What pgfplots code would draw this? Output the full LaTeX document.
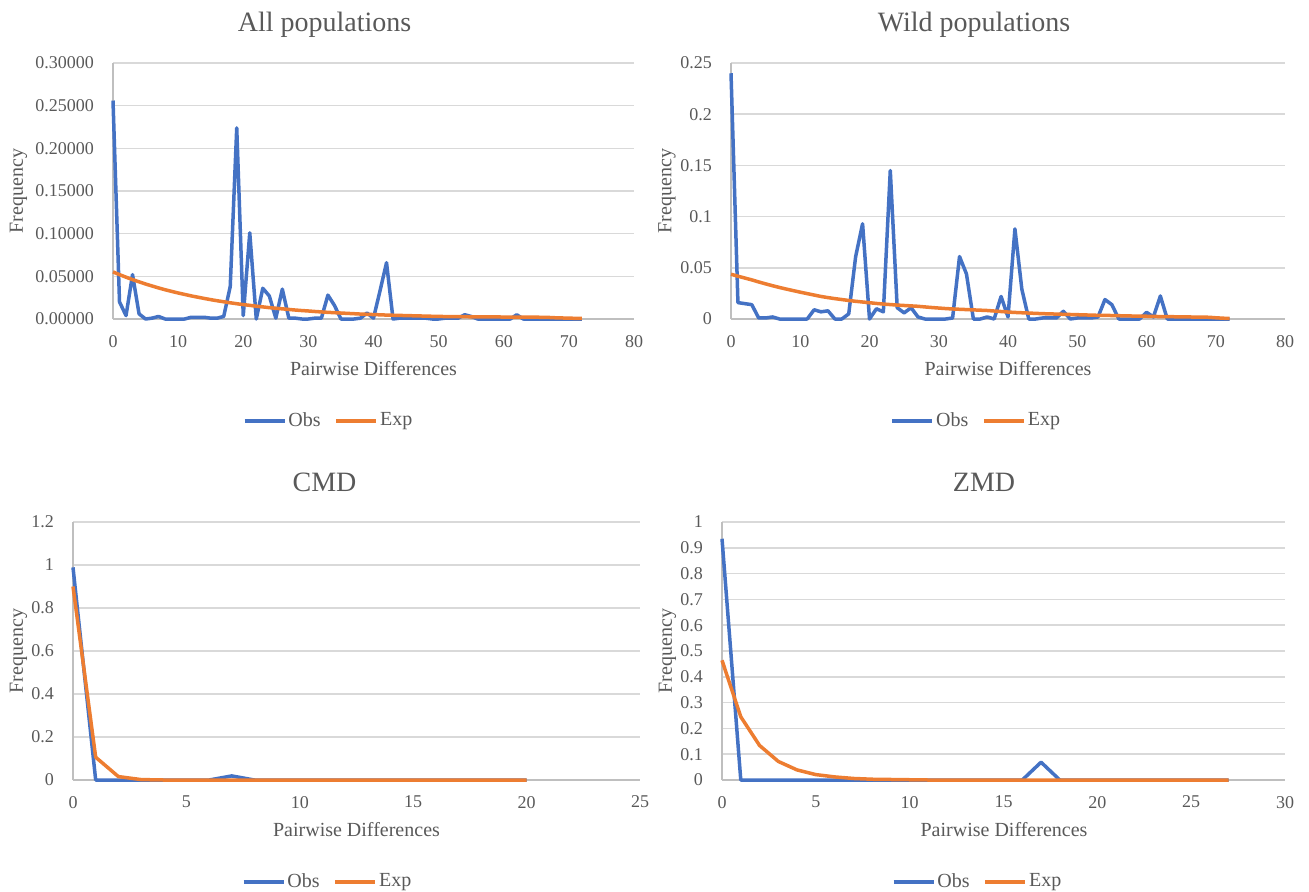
\documentclass[border=0pt]{standalone}
\usepackage{fontspec}
\setmainfont{Liberation Serif}
\usepackage{pgfplots}
\pgfplotsset{compat=1.18}
\definecolor{obsblue}{HTML}{4472C4}
\definecolor{exporange}{HTML}{ED7D31}
\definecolor{gridgray}{HTML}{D9D9D9}
\definecolor{axisgray}{HTML}{BFBFBF}
\definecolor{txtgray}{HTML}{595959}

\pgfplotsset{
  panel/.style={
    scale only axis, anchor=south west,
    enlargelimits=false, clip=false,
    axis lines=left,
    axis line style={draw=axisgray, line width=0.75pt, -},
    ymajorgrids,
    grid style={draw=gridgray, line width=0.75pt},
    major tick length=0pt,
    tick label style={font=\fontsize{9}{10}\selectfont, text=txtgray},
    yticklabel style={xshift=-6pt},
    xticklabel style={yshift=-4.5pt},
    /pgf/number format/assume math mode=true,
    scaled y ticks=false,
    legend style={draw=none, fill=none, legend columns=-1,
      font=\fontsize{10}{11}\selectfont, text=txtgray, anchor=center,
      nodes={inner sep=1pt},
      /tikz/every even column/.append style={column sep=6pt}},
    legend image code/.code={\draw[##1] (0pt,0pt) -- (20pt,0pt);},
  },
  obs/.style={color=obsblue, line width=1.75pt, line join=round, mark=none},
  exp/.style={color=exporange, line width=1.75pt, line join=round, mark=none},
}

\begin{document}
\begin{tikzpicture}
\useasboundingbox (0,0) rectangle (654.5pt,445.5pt);

% ---- All populations ----
\begin{axis}[panel, at={(56.5pt,286pt)}, width=260.5pt, height=128pt,
  xmin=0, xmax=80, ymin=0, ymax=0.3,
  xtick={0,10,20,30,40,50,60,70,80},
  ytick={0,0.05,0.1,0.15,0.2,0.25,0.3},
  yticklabel style={/pgf/number format/.cd, fixed, fixed zerofill, precision=5},
  legend style={at={(0.414,-0.398)}}]
\addplot[obs] coordinates {
 (0,0.256) (1,0.020) (2,0.004) (3,0.052) (4,0.006) (5,0.000) (6,0.001) (7,0.003)
 (8,0.000) (9,0.000) (10,0.000) (11,0.000) (12,0.002) (13,0.002) (14,0.002) (15,0.001)
 (16,0.001) (17,0.003) (18,0.038) (19,0.224) (20,0.004) (21,0.101) (22,0.000) (23,0.036)
 (24,0.027) (25,0.001) (26,0.035) (27,0.001) (28,0.001) (29,0.000) (30,0.000) (31,0.001)
 (32,0.001) (33,0.028) (34,0.016) (35,0.000) (36,0.000) (37,0.000) (38,0.001) (39,0.007)
 (40,0.001) (41,0.033) (42,0.066) (43,0.000) (44,0.001) (45,0.001) (46,0.001) (47,0.001)
 (48,0.001) (49,0.000) (50,0.000) (51,0.001) (52,0.001) (53,0.001) (54,0.005) (55,0.003)
 (56,0.000) (57,0.000) (58,0.000) (59,0.000) (60,0.000) (61,0.000) (62,0.005) (63,0.000)
 (64,0.000) (65,0.000) (66,0.000) (67,0.000) (68,0.000) (69,0.000) (70,0.000) (71,0.000)
 (72,0.000)
};
\addlegendentry{Obs}
\addplot[exp] coordinates {
 (0,0.0552) (1,0.0520) (2,0.0490) (3,0.0462) (4,0.0436) (5,0.0410) (6,0.0387) (7,0.0364)
 (8,0.0343) (9,0.0324) (10,0.0305) (11,0.0288) (12,0.0271) (13,0.0256) (14,0.0241) (15,0.0227)
 (16,0.0214) (17,0.0202) (18,0.0190) (19,0.0179) (20,0.0169) (21,0.0160) (22,0.0150) (23,0.0142)
 (24,0.0133) (25,0.0126) (26,0.0119) (27,0.0112) (28,0.0105) (29,0.0099) (30,0.0094) (31,0.0088)
 (32,0.0083) (33,0.0078) (34,0.0074) (35,0.0070) (36,0.0066) (37,0.0062) (38,0.0058) (39,0.0055)
 (40,0.0052) (41,0.0049) (42,0.0046) (43,0.0044) (44,0.0042) (45,0.0040) (46,0.0038) (47,0.0036)
 (48,0.0034) (49,0.0032) (50,0.0030) (51,0.0029) (52,0.0028) (53,0.0028) (54,0.0027) (55,0.0026)
 (56,0.0026) (57,0.0025) (58,0.0024) (59,0.0024) (60,0.0023) (61,0.0023) (62,0.0022) (63,0.0022)
 (64,0.0021) (65,0.0021) (66,0.0020) (67,0.0018) (68,0.0014) (69,0.0012) (70,0.0010) (71,0.0008)
 (72,0.0006)
};
\addlegendentry{Exp}
\end{axis}

% ---- Wild populations ----
\begin{axis}[panel, at={(365.5pt,286pt)}, width=277pt, height=128pt,
  xmin=0, xmax=80, ymin=0, ymax=0.25,
  xtick={0,10,20,30,40,50,60,70,80},
  ytick={0,0.05,0.1,0.15,0.2,0.25},
  yticklabel style={/pgf/number format/.cd, fixed, precision=2},
  legend style={at={(0.443,-0.398)}}]
\addplot[obs] coordinates {
 (0,0.240) (1,0.016) (2,0.015) (3,0.014) (4,0.001) (5,0.001) (6,0.002) (7,0.000)
 (8,0.000) (9,0.000) (10,0.000) (11,0.000) (12,0.009) (13,0.007) (14,0.008) (15,0.000)
 (16,0.000) (17,0.005) (18,0.061) (19,0.093) (20,0.000) (21,0.010) (22,0.007) (23,0.145)
 (24,0.011) (25,0.006) (26,0.011) (27,0.002) (28,0.000) (29,0.000) (30,0.000) (31,0.000)
 (32,0.001) (33,0.061) (34,0.044) (35,0.000) (36,0.000) (37,0.002) (38,0.000) (39,0.022)
 (40,0.002) (41,0.088) (42,0.029) (43,0.000) (44,0.000) (45,0.001) (46,0.001) (47,0.001)
 (48,0.0075) (49,0.000) (50,0.001) (51,0.001) (52,0.001) (53,0.002) (54,0.019) (55,0.014)
 (56,0.000) (57,0.000) (58,0.000) (59,0.000) (60,0.0065) (61,0.002) (62,0.0225) (63,0.000)
 (64,0.000) (65,0.000) (66,0.000) (67,0.000) (68,0.000) (69,0.000) (70,0.000) (71,0.000)
 (72,0.000)
};
\addlegendentry{Obs}
\addplot[exp] coordinates {
 (0,0.0437) (1,0.0418) (2,0.0400) (3,0.0382) (4,0.0362) (5,0.0343) (6,0.0325) (7,0.0308)
 (8,0.0292) (9,0.0277) (10,0.0262) (11,0.0248) (12,0.0234) (13,0.0220) (14,0.0209) (15,0.0199)
 (16,0.0190) (17,0.0181) (18,0.0173) (19,0.0166) (20,0.0159) (21,0.0152) (22,0.0146) (23,0.0141)
 (24,0.0136) (25,0.0132) (26,0.0128) (27,0.0124) (28,0.0118) (29,0.0112) (30,0.0107) (31,0.0102)
 (32,0.0098) (33,0.0095) (34,0.0092) (35,0.0089) (36,0.0086) (37,0.0083) (38,0.0078) (39,0.0073)
 (40,0.0068) (41,0.0064) (42,0.0061) (43,0.0058) (44,0.0055) (45,0.0052) (46,0.0050) (47,0.0048)
 (48,0.0046) (49,0.0044) (50,0.0042) (51,0.0040) (52,0.0038) (53,0.0036) (54,0.0035) (55,0.0034)
 (56,0.0032) (57,0.0031) (58,0.0029) (59,0.0028) (60,0.0027) (61,0.0025) (62,0.0024) (63,0.0023)
 (64,0.0022) (65,0.0021) (66,0.0020) (67,0.0019) (68,0.0018) (69,0.0017) (70,0.0012) (71,0.0008)
 (72,0.0005)
};
\addlegendentry{Exp}
\end{axis}

% ---- CMD ----
\begin{axis}[panel, at={(36.5pt,55.5pt)}, width=283.5pt, height=129pt,
  xmin=0, xmax=25, ymin=0, ymax=1.2,
  xtick={0,5,10,15,20,25},
  ytick={0,0.2,0.4,0.6,0.8,1,1.2},
  yticklabel style={/pgf/number format/.cd, fixed, precision=1},
  legend style={at={(0.449,-0.395)}}]
\addplot[obs] coordinates {
 (0,0.989) (1,0) (2,0) (3,0) (4,0) (5,0) (6,0) (7,0.019) (8,0) (9,0) (10,0)
 (11,0) (12,0) (13,0) (14,0) (15,0) (16,0) (17,0) (18,0) (19,0) (20,0)
};
\addlegendentry{Obs}
\addplot[exp] coordinates {
 (0,0.900) (1,0.106) (2,0.016) (3,0.002) (4,0) (5,0) (6,0) (7,0) (8,0) (9,0) (10,0)
 (11,0) (12,0) (13,0) (14,0) (15,0) (16,0) (17,0) (18,0) (19,0) (20,0)
};
\addlegendentry{Exp}
\end{axis}

% ---- ZMD ----
\begin{axis}[panel, at={(361pt,55.5pt)}, width=281.5pt, height=129pt,
  xmin=0, xmax=30, ymin=0, ymax=1,
  xtick={0,5,10,15,20,25,30},
  ytick={0,0.1,0.2,0.3,0.4,0.5,0.6,0.7,0.8,0.9,1},
  yticklabel style={/pgf/number format/.cd, fixed, precision=1},
  legend style={at={(0.454,-0.395)}}]
\addplot[obs] coordinates {
 (0,0.935) (1,0) (2,0) (3,0) (4,0) (5,0) (6,0) (7,0) (8,0) (9,0) (10,0)
 (11,0) (12,0) (13,0) (14,0) (15,0) (16,0) (17,0.069) (18,0) (19,0) (20,0)
 (21,0) (22,0) (23,0) (24,0) (25,0) (26,0) (27,0)
};
\addlegendentry{Obs}
\addplot[exp] coordinates {
 (0,0.464) (1,0.245) (2,0.134) (3,0.072) (4,0.039) (5,0.021) (6,0.012) (7,0.006)
 (8,0.003) (9,0.002) (10,0.001) (11,0) (12,0) (13,0) (14,0) (15,0) (16,0) (17,0)
 (18,0) (19,0) (20,0) (21,0) (22,0) (23,0) (24,0) (25,0) (26,0) (27,0)
};
\addlegendentry{Exp}
\end{axis}

% titles and axis labels
\begin{scope}[every node/.style={text=txtgray, inner sep=0pt}]
\node[font=\fontsize{14}{16}\selectfont, anchor=base] at (162.25pt,429.5pt) {All populations};
\node[font=\fontsize{14}{16}\selectfont, anchor=base] at (487pt,429.5pt) {Wild populations};
\node[font=\fontsize{14}{16}\selectfont, anchor=base] at (162.25pt,199.6pt) {CMD};
\node[font=\fontsize{14}{16}\selectfont, anchor=base] at (492pt,199.6pt) {ZMD};
\node[font=\fontsize{10}{12}\selectfont, anchor=base] at (186.75pt,258pt) {Pairwise Differences};
\node[font=\fontsize{10}{12}\selectfont, anchor=base] at (504pt,258pt) {Pairwise Differences};
\node[font=\fontsize{10}{12}\selectfont, anchor=base] at (178.25pt,27.5pt) {Pairwise Differences};
\node[font=\fontsize{10}{12}\selectfont, anchor=base] at (502pt,27.5pt) {Pairwise Differences};
\node[font=\fontsize{10}{12}\selectfont, rotate=90] at (9.25pt,350pt) {Frequency};
\node[font=\fontsize{10}{12}\selectfont, rotate=90] at (333.5pt,350pt) {Frequency};
\node[font=\fontsize{10}{12}\selectfont, rotate=90] at (9.25pt,120pt) {Frequency};
\node[font=\fontsize{10}{12}\selectfont, rotate=90] at (333.75pt,120pt) {Frequency};
\end{scope}
\end{tikzpicture}
\end{document}
